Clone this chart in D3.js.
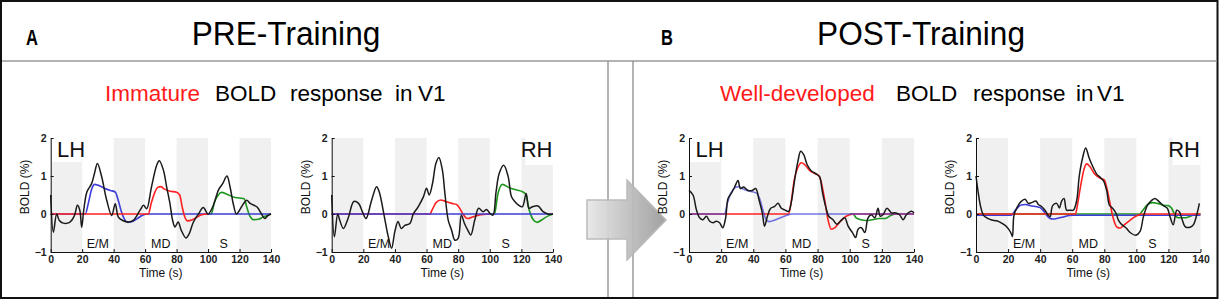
<!DOCTYPE html>
<html><head><meta charset="utf-8">
<script src="https://cdn.jsdelivr.net/npm/d3@7"></script>
<style>
body{margin:0;background:#fff}
svg{display:block}
text{font-family:"Liberation Sans",Arial,Helvetica,sans-serif}
</style>
</head><body>
<svg id="chart" width="1220" height="301"></svg>
<script>
// ---------- data ----------
const panelLetters = ["A", "B"];
const panelTitles = ["PRE-Training", "POST-Training"];
const preSubtitle = ["Immature", "BOLD", "response", "in", "V1"];
const postSubtitle = ["Well-developed", "BOLD", "response", "in", "V1"];
const timeTicks = [0, 20, 40, 60, 80, 100, 120, 140];
const boldTicks = [-1, 0, 1, 2];
const stimBands = [[0, 20], [40, 60], [80, 100], [120, 140]];
const condLabels = ["E/M", "MD", "S"];
const condCenters = [30, 70, 110];
const yLabel = "BOLD (%)";
const xLabel = "Time (s)";

const preLH_black = [[0,0.5],[1.7,-0.48],[3.8,0],[5.5,-0.17],[8,-0.24],[12,-0.22],[15,-0.05],[17,0.23],[18.5,0.1],[19.7,-0.35],[21,0.1],[23,0.58],[26,0.8],[28,1.1],[29.7,1.33],[32.4,0.98],[35.6,0.36],[38.8,-0.04],[41,0.27],[43,-0.08],[45.8,-0.17],[49.4,-0.21],[52.5,-0.17],[56.8,0.1],[59,0.23],[61,0.14],[64,0.7],[67.4,1.29],[69,1.4],[71.6,1.16],[73.7,0.71],[75.8,0.27],[77.5,-0.17],[79,-0.34],[81,-0.21],[83,-0.43],[86,-0.63],[88,-0.52],[90.7,-0.21],[93.9,0],[97,0.17],[100,0],[103,0.19],[106.6,0.63],[109.3,0.8],[112,1.0],[114,0.71],[116,0.27],[118,0],[120,0.1],[122.5,0.27],[124.6,0.36],[127,0.27],[131,0.19],[134,0],[136,-0.12],[138,-0.04],[140,0]];
const preLH_blue = [[0,0],[22,0],[24,0.3],[26,0.65],[28,0.78],[30,0.76],[34,0.68],[38,0.62],[41,0.58],[43,0.35],[45,0.05],[47,-0.15],[49,-0.22],[52,-0.2],[55,-0.12],[58,-0.04],[62,0],[140,0]];
const preLH_red = [[0,0],[62,0],[64,0.3],[66,0.55],[68,0.7],[70,0.72],[72,0.66],[76,0.6],[80,0.57],[82,0.5],[83.5,0.2],[85,-0.05],[87,-0.18],[90,-0.15],[93,-0.08],[96,-0.02],[100,0]];
const preLH_green = [[100,0],[102,0],[104,0.3],[106.5,0.5],[108.5,0.57],[112,0.52],[116,0.45],[120,0.42],[123,0.4],[124.5,0.2],[126.5,-0.05],[129,-0.15],[132,-0.14],[135,-0.08],[138,-0.03],[140,0]];

const preRH_black = [[0,0.5],[1.7,-0.6],[3.8,0],[5,-0.15],[7.4,-0.38],[10.5,-0.1],[14,0.33],[17,0.28],[19.5,0.05],[21.7,-0.12],[25.3,0.37],[28.4,0.72],[30,0.59],[33.7,-0.16],[35.8,-0.6],[37.9,-0.9],[40,-0.45],[42,-0.2],[44,-0.38],[46.3,-0.3],[49.5,-0.25],[51.6,0],[54.7,0.19],[58,0.45],[60,0.68],[61.7,0.5],[63.8,0.81],[65.9,1.33],[67.8,1.49],[70,1.16],[71.6,0.55],[73.7,-0.16],[75.8,-0.42],[78,-0.69],[80,-0.64],[82,-0.03],[84,-0.25],[86,-0.42],[88,-0.55],[90.5,-0.16],[93,0.15],[95.8,0.06],[98,0.12],[100,0.02],[102,-0.03],[104,0.59],[106,1.07],[108.8,1.28],[111.6,0.99],[113.7,0.46],[115.8,0.33],[118,0.24],[120.6,0.19],[123,0.54],[124.8,0.15],[127,0.19],[130.5,0.21],[133.7,0.06],[136.8,0],[140,0]];
const preRH_blue = [[0,0],[140,0]];
const preRH_red = [[0,0],[62,0],[64,0.15],[66,0.3],[69,0.37],[72,0.33],[76,0.28],[79,0.25],[81,0.15],[83,0],[86,-0.12],[89,-0.08],[93,-0.03],[100,0]];
const preRH_green = [[100,0],[103,0],[105,0.5],[108,0.78],[112,0.7],[117,0.63],[121,0.58],[123,0.5],[125,0.1],[127.5,-0.15],[130,-0.22],[133,-0.15],[137,-0.05],[140,0]];

const postLH_black = [[0,0.62],[2.5,0.5],[4.6,0.11],[6.6,-0.1],[8.7,-0.15],[10.8,-0.06],[12.9,-0.19],[15,-0.23],[17,-0.19],[19,-0.23],[21,-0.36],[22.8,-0.1],[24.3,0.41],[26.3,0.54],[28.4,0.71],[30.5,0.88],[32,0.67],[34,0.71],[36.7,0.62],[39.4,0.62],[41.5,0.67],[43.6,0.37],[45.6,0.03],[47,-0.32],[48.8,-0.06],[50.8,0.15],[53.3,0.2],[55.4,0.28],[57.5,0.15],[59.5,0.11],[62,0.07],[63.7,0.32],[65.8,0.92],[67.8,1.39],[69.5,1.65],[71.4,1.56],[73.4,1.31],[76,1.14],[79.3,1.05],[81.3,0.97],[83,0.58],[85,0.2],[87,-0.06],[89.6,-0.15],[92,-0.27],[94.2,-0.19],[96.9,-0.1],[99,-0.32],[101.7,-0.49],[103.7,-0.62],[105.2,-0.4],[107.3,-0.36],[109.4,-0.49],[111.4,-0.1],[113.5,-0.02],[115.6,-0.1],[117.6,0.15],[119,-0.06],[120.7,-0.02],[123.2,0.15],[126,0.03],[128,0.03],[131,-0.02],[133.2,-0.15],[135.3,-0.02],[138.4,0.07],[140,0.03]];
const postLH_blue = [[0,0],[22,0],[24,0.3],[26,0.55],[29,0.7],[31,0.72],[34,0.65],[38,0.6],[42,0.55],[44,0.4],[46,0.1],[48,-0.15],[50,-0.2],[54,-0.15],[58,-0.08],[61,-0.03],[64,0],[140,0]];
const postLH_red = [[0,0],[62,0],[63.5,0.3],[65.5,0.9],[68,1.25],[70,1.35],[72,1.3],[75,1.15],[78,1.07],[81,1.0],[82.5,0.8],[84.5,0.35],[86.5,-0.15],[88.5,-0.4],[91,-0.35],[94,-0.2],[97,-0.08],[100,-0.02],[103,0],[140,0]];
const postLH_green = [[100,0],[102,0],[104,-0.1],[107,-0.15],[110,-0.17],[114,-0.15],[118,-0.12],[122,-0.12],[125,-0.05],[128,0]];

const postRH_black = [[0,1.0],[1.5,0.53],[2.9,0.19],[4.6,-0.03],[7,-0.11],[9.8,-0.16],[12.9,-0.18],[16,-0.24],[19,-0.33],[21.8,-0.5],[22.7,-0.59],[23.7,-0.03],[25.8,0.19],[27.9,0.32],[30.6,0.39],[32.6,0.28],[34.7,0.3],[37.4,0.34],[38.9,0.25],[41,0.19],[43,0.1],[45,-0.03],[46.2,-0.07],[47.8,0.22],[50.3,0.28],[52,0.16],[53.4,0.34],[54.9,0.41],[56.5,0.1],[58.6,0.1],[60.7,0.1],[62.8,0.36],[64.4,1.0],[66.5,1.48],[68.4,1.74],[70.5,1.48],[72.6,1.27],[75.3,1.05],[77.3,0.97],[79.4,0.88],[81.5,0.62],[83.2,0.23],[85.2,0.15],[87.3,0.02],[88.8,-0.16],[90.9,-0.28],[93.6,-0.37],[96.5,-0.5],[99.8,-0.56],[102.3,-0.46],[104.4,-0.07],[106.9,0.23],[109.6,0.36],[111.6,0.41],[114.3,0.32],[116.8,0.22],[119.3,0.15],[121,-0.07],[123,-0.28],[125.2,0.1],[126.8,0.06],[128.3,-0.11],[130.4,-0.33],[133.5,-0.35],[135.6,-0.28],[137.6,-0.03],[139.3,0.28]];
const postRH_blue = [[0,0],[22,0],[24,0.1],[26,0.2],[28,0.27],[31,0.28],[34,0.25],[38,0.22],[40,0.2],[42,0.12],[44,0],[46,-0.08],[48,-0.1],[51,-0.08],[55,-0.04],[58,-0.01],[61,0],[140,0]];
const postRH_red = [[0,0],[62,0],[63.5,0.3],[65.5,0.8],[67.5,1.2],[69,1.32],[71,1.25],[74,1.05],[77,0.95],[80,0.9],[81.5,0.7],[83.5,0.3],[85.5,-0.1],[88,-0.35],[90,-0.37],[92,-0.3],[95,-0.2],[98,-0.1],[101,-0.03],[104,0],[140,0]];
const postRH_green = [[0,0],[102,0],[104,0.1],[107,0.25],[110,0.3],[113,0.28],[117,0.23],[120,0.22],[122,0.15],[124,-0.02],[126,-0.1],[130,-0.1],[133,-0.07],[136,-0.02],[139,0],[140,0]];

// ---------- layout ----------
const svg = d3.select("#chart");
const C = {red: "#ff2020", blue: "#3c3cd8", green: "#1e961e", black: "#1a1a1a", band: "#f0f0f0"};

// frame
svg.append("rect").attr("x", 1).attr("y", 1).attr("width", 1216.5).attr("height", 297)
  .attr("fill", "#fff").attr("stroke", "#111").attr("stroke-width", 2);
svg.append("line").attr("x1", 2).attr("x2", 1217).attr("y1", 61).attr("y2", 61)
  .attr("stroke", "#9a9a9a").attr("stroke-width", 1.5);
[608, 633].forEach(x => svg.append("line").attr("x1", x).attr("x2", x).attr("y1", 61).attr("y2", 297)
  .attr("stroke", "#8a8a8a").attr("stroke-width", 1.3));

// headers
const headerPos = [{lx: 26, tx: 286}, {lx: 661, tx: 921}];
headerPos.forEach((h, i) => {
  svg.append("text").attr("transform", `translate(${h.lx},45) scale(0.75,1)`)
    .attr("font-size", 22).attr("font-weight", "bold").text(panelLetters[i]);
  svg.append("text").attr("transform", `translate(${h.tx},45) scale(0.93,1)`)
    .attr("font-size", 34).attr("text-anchor", "middle").text(panelTitles[i]);
});

// subtitles
function subtitle(words, xs, y) {
  const t = svg.append("text").attr("y", y).attr("font-size", 22.5);
  words.forEach((w, i) => t.append("tspan").attr("x", xs[i]).attr("fill", i === 0 ? "#ff1a1a" : "#000").text(w));
}
subtitle(preSubtitle, [105, 215, 290, 395, 418], 101);
subtitle(postSubtitle, [720, 896, 973, 1076, 1097], 101);

// arrow
const defs = svg.append("defs");
const grad = defs.append("linearGradient").attr("id", "ag").attr("x1", "0%").attr("x2", "100%");
grad.append("stop").attr("offset", "0%").attr("stop-color", "#e8e8e8");
grad.append("stop").attr("offset", "100%").attr("stop-color", "#9c9c9c");
svg.append("path").attr("d", "M587,200 L627,200 L627,180 L666,220 L627,260 L627,239 L587,239 Z")
  .attr("fill", "url(#ag)").attr("stroke", "#b8b8b8").attr("stroke-width", 1.5).attr("opacity", 0.95);

// panels
const panels = [
  {x0: 50.7, x1: 271, side: "LH", black: preLH_black, fits: [[preLH_green, C.green, 1], [preLH_blue, C.blue, 1], [preLH_red, C.red, 1]]},
  {x0: 331.7, x1: 553, side: "RH", black: preRH_black, fits: [[preRH_red, C.red, 1], [preRH_green, C.green, 1], [preRH_blue, C.blue, 1]]},
  {x0: 689, x1: 914, side: "LH", black: postLH_black, fits: [[postLH_green, C.green, 1], [postLH_red, C.red, 1], [postLH_blue, C.blue, 0.7]]},
  {x0: 976, x1: 1200.5, side: "RH", black: postRH_black, fits: [[postRH_green, C.green, 1], [postRH_blue, C.blue, 1, 1.2], [postRH_red, C.red, 1]]}
];
const yTop = 138, yBot = 252;

panels.forEach(p => {
  const x = d3.scaleLinear().domain([0, 140]).range([p.x0, p.x1]);
  const y = d3.scaleLinear().domain([-1, 2]).range([yBot, yTop]);
  const g = svg.append("g");

  // stimulus bands
  g.selectAll("rect.band").data(stimBands).join("rect").attr("class", "band")
    .attr("x", d => x(d[0])).attr("width", d => x(d[1]) - x(d[0]))
    .attr("y", y(2)).attr("height", y(-1) - y(2)).attr("fill", C.band);

  // label box
  const lbl = p.side === "LH" ? {t0: 0, t1: 19.5, h: 24} : {t0: 122, t1: 140, h: 27};
  g.append("rect").attr("x", x(lbl.t0) + 1).attr("y", y(2)).attr("width", x(lbl.t1) - x(lbl.t0) - 1)
    .attr("height", lbl.h).attr("fill", "#fff");
  g.append("text").attr("x", p.side === "LH" ? x(4) : x(139.7)).attr("y", 157)
    .attr("text-anchor", p.side === "LH" ? "start" : "end").attr("font-size", 22).attr("fill", "#111")
    .text(p.side);

  // condition labels
  g.selectAll("text.cond").data(condLabels).join("text").attr("class", "cond")
    .attr("x", (d, i) => x(condCenters[i])).attr("y", 248).attr("text-anchor", "middle")
    .attr("font-size", 12.5).attr("fill", "#111").text(d => d);

  // fits
  const fitLine = d3.line().x(d => x(d[0])).y(d => y(d[1])).curve(d3.curveMonotoneX);
  p.fits.forEach(f => {
    g.append("path").attr("d", fitLine(f[0])).attr("fill", "none").attr("stroke", f[1])
      .attr("stroke-width", 1.6).attr("opacity", f[2])
      .attr("transform", f[3] ? `translate(0,${f[3]})` : null);
  });

  // raw BOLD
  const rawLine = d3.line().x(d => x(d[0])).y(d => y(d[1])).curve(d3.curveCatmullRom.alpha(0.5));
  g.append("path").attr("d", rawLine(p.black)).attr("fill", "none").attr("stroke", C.black)
    .attr("stroke-width", 1.5).attr("stroke-linejoin", "round");

  // axes
  const xa = g.append("g").attr("transform", `translate(0,${yBot})`)
    .call(d3.axisBottom(x).tickValues(timeTicks).tickSizeInner(-3).tickSizeOuter(0).tickPadding(4).tickFormat(d3.format("d")));
  const ya = g.append("g").attr("transform", `translate(${p.x0},0)`)
    .call(d3.axisLeft(y).tickValues(boldTicks).tickSizeInner(-3).tickSizeOuter(0).tickPadding(4).tickFormat(d3.format("d")));
  [xa, ya].forEach(a => {
    a.selectAll("text").attr("font-size", 10.5).attr("font-weight", "bold").attr("fill", "#222")
      .attr("font-family", "'Liberation Sans',Arial,sans-serif");
    a.selectAll("path,line").attr("stroke", "#111");
  });

  g.append("text").attr("transform", `translate(${p.x0 - 22},187) rotate(-90)`)
    .attr("text-anchor", "middle").attr("font-size", 12).attr("fill", "#111").text(yLabel);
  g.append("text").attr("x", (p.x0 + p.x1) / 2).attr("y", 277).attr("text-anchor", "middle")
    .attr("font-size", 12).attr("fill", "#111").text(xLabel);
});
</script>
</body></html>
